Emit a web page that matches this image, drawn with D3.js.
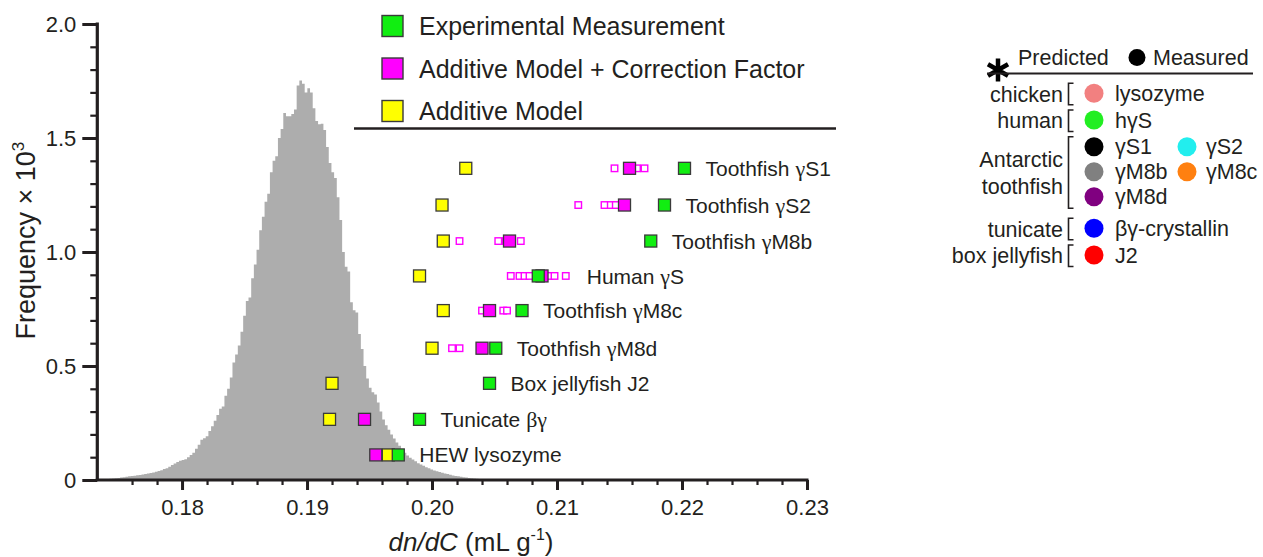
<!DOCTYPE html>
<html>
<head>
<meta charset="utf-8">
<script src="https://cdn.jsdelivr.net/npm/d3@7/dist/d3.min.js"></script>
<style>
  html, body { margin: 0; padding: 0; background: #fff; }
  svg { display: block; font-family: "Liberation Sans", Arial, Helvetica, sans-serif; }
</style>
</head>
<body>
<svg id="chart" width="1263" height="557"></svg>
<script>
// ---------------- DATA ----------------
// Histogram of predicted dn/dC (frequency x 10^3)
const histStart = 0.17419;
const histBinWidth = 0.000214;
const histFreq = [
  0.005,0.007,0.008,0.009,0.011,0.012,0.014,0.016,0.017,0.019,
  0.021,0.022,0.024,0.026,0.028,0.031,0.033,0.036,0.039,0.043,
  0.048,0.052,0.058,0.066,0.072,0.079,0.084,0.088,0.091,0.100,
  0.110,0.120,0.137,0.155,0.176,0.183,0.192,0.215,0.236,0.260,
  0.285,0.312,0.322,0.370,0.400,0.450,0.515,0.550,0.590,0.650,
  0.720,0.785,0.800,0.885,0.945,1.010,1.095,1.155,1.220,1.255,
  1.350,1.400,1.420,1.500,1.540,1.610,1.595,1.595,1.605,1.625,
  1.730,1.752,1.738,1.700,1.718,1.700,1.630,1.575,1.560,1.562,
  1.535,1.460,1.390,1.350,1.325,1.240,1.140,1.000,0.935,0.915,
  0.780,0.745,0.735,0.640,0.575,0.500,0.445,0.405,0.385,0.375,
  0.340,0.300,0.265,0.240,0.220,0.200,0.182,0.165,0.150,0.135,
  0.120,0.108,0.098,0.090,0.082,0.074,0.068,0.062,0.056,0.051,
  0.046,0.042,0.038,0.035,0.032,0.029,0.026,0.023,0.020,0.018,
  0.016,0.014,0.012,0.011,0.009,0.008,0.007,0.005,0.004,0.003,
  0.002
];

const proteins = ["Toothfish \u03b3S1","Toothfish \u03b3S2","Toothfish \u03b3M8b","Human \u03b3S",
  "Toothfish \u03b3M8c","Toothfish \u03b3M8d","Box jellyfish J2","Tunicate \u03b2\u03b3","HEW lysozyme"];
const rowLevel  = [1.367, 1.206, 1.048, 0.895, 0.743, 0.578, 0.424, 0.266, 0.110];
const measured  = [0.2202, 0.2186, 0.2175, 0.2085, 0.2072, 0.2051, 0.2046, 0.1990, 0.1973];
const corrected = [0.2158, 0.2154, 0.2062, 0.2088, 0.2046, 0.2040, null, 0.1946, 0.1955];
const additive  = [0.2027, 0.2008, 0.2009, 0.1990, 0.2009, 0.2000, 0.1920, 0.1918, 0.1965];
const correctedVariants = [
  [0.2146, 0.2164, 0.2170],
  [0.2117, 0.2138, 0.2143, 0.2147],
  [0.2022, 0.2053, 0.2059, 0.2071],
  [0.2063, 0.2070, 0.2074, 0.2078, 0.2090, 0.2094, 0.2098, 0.2107],
  [0.2040, 0.2057, 0.2060],
  [0.2016, 0.2022],
  [],
  [],
  [0.1961]
];

const xMajorTicks = [0.18, 0.19, 0.20, 0.21, 0.22, 0.23];
const yMajorTicks = [0, 0.5, 1.0, 1.5, 2.0];
const yTickLabels = ["0", "0.5", "1.0", "1.5", "2.0"];

const legendLabels = ["Experimental Measurement", "Additive Model + Correction Factor", "Additive Model"];

const keyGroups = ["chicken", "human", "Antarctic\ntoothfish", "tunicate", "box jellyfish"];
const keyItems = [
  [{name: "lysozyme", color: "#f28080"}],
  [{name: "h\u03b3S", color: "#22ee22"}],
  [{name: "\u03b3S1", color: "#000000"}, {name: "\u03b3S2", color: "#22eeee"},
   {name: "\u03b3M8b", color: "#808080"}, {name: "\u03b3M8c", color: "#ff8010"},
   {name: "\u03b3M8d", color: "#800080"}],
  [{name: "\u03b2\u03b3-crystallin", color: "#0000ff"}],
  [{name: "J2", color: "#ff0000"}]
];

// ---------------- STYLE ----------------
const GREEN = "#11ee11", MAGENTA = "#ff00ff", YELLOW = "#ffff00", HIST = "#adadad", INK = "#231f20";

const svg = d3.select("#chart");
const X0 = 0.17322, X1 = 0.23;
const x = d3.scaleLinear().domain([X0, X1]).range([97.3, 807]);
const y = d3.scaleLinear().domain([0, 2]).range([480, 24]);

// ---------------- HISTOGRAM ----------------
const histPts = histFreq.map((f, i) => ({v: histStart + i * histBinWidth, f}));
histPts.push({v: histStart + histFreq.length * histBinWidth, f: 0});
svg.append("path")
  .datum(histPts)
  .attr("fill", HIST)
  .attr("d", d3.area().curve(d3.curveStepAfter).x(d => x(d.v)).y0(y(0)).y1(d => y(d.f)));

// ---------------- AXES ----------------
const xMinor = d3.range(0.176, 0.2301, 0.002).filter(v => !xMajorTicks.some(m => Math.abs(m - v) < 1e-6));
const yMinor = d3.range(0.1, 2.0, 0.1).filter(v => !yMajorTicks.some(m => Math.abs(m - v) < 1e-6));

const gx = svg.append("g").attr("transform", `translate(0,${y(0)})`);
gx.call(d3.axisBottom(x).tickValues(xMinor).tickSize(5).tickSizeOuter(0).tickFormat(""));
gx.selectAll(".tick line").attr("stroke-width", 2.2).attr("stroke", INK);
const gx2 = svg.append("g").attr("transform", `translate(0,${y(0)})`);
gx2.call(d3.axisBottom(x).tickValues(xMajorTicks).tickSize(10).tickSizeOuter(0).tickPadding(9).tickFormat(d3.format(".2f")));
gx2.selectAll(".tick line").attr("stroke-width", 3).attr("stroke", INK);
gx2.selectAll(".tick text").attr("font-size", 22).attr("fill", INK).attr("font-family", "Liberation Sans, Arial, sans-serif");
gx.select(".domain").remove();
gx2.select(".domain").remove();

const gy = svg.append("g").attr("transform", `translate(${x(X0)},0)`);
gy.call(d3.axisLeft(y).tickValues(yMinor).tickSize(7).tickSizeOuter(0).tickFormat(""));
gy.selectAll(".tick line").attr("stroke-width", 2.2).attr("stroke", INK);
const gy2 = svg.append("g").attr("transform", `translate(${x(X0)},0)`);
gy2.call(d3.axisLeft(y).tickValues(yMajorTicks).tickSize(15).tickSizeOuter(0).tickPadding(6)
  .tickFormat((d, i) => yTickLabels[i]));
gy2.selectAll(".tick line").attr("stroke-width", 3).attr("stroke", INK);
gy2.selectAll(".tick text").attr("font-size", 22).attr("fill", INK).attr("font-family", "Liberation Sans, Arial, sans-serif");
gy.select(".domain").remove();
gy2.select(".domain").remove();

// axis lines
svg.append("line").attr("x1", x(X0) - 1.5).attr("x2", x(X1) + 1.5).attr("y1", y(0)).attr("y2", y(0))
  .attr("stroke", INK).attr("stroke-width", 3.2);
svg.append("line").attr("x1", x(X0)).attr("x2", x(X0)).attr("y1", y(2) - 1.5).attr("y2", y(0))
  .attr("stroke", INK).attr("stroke-width", 3.2);

// axis titles
const yt = svg.append("text")
  .attr("transform", `translate(35,${y(1.05)}) rotate(-90)`)
  .attr("text-anchor", "middle").attr("font-size", 27).attr("fill", INK);
yt.append("tspan").text("Frequency \u00d7 10");
yt.append("tspan").attr("font-size", 17).attr("dy", -11).text("3");

const xt = svg.append("text")
  .attr("x", 471).attr("y", 551)
  .attr("text-anchor", "middle").attr("font-size", 26).attr("fill", INK);
xt.append("tspan").attr("font-style", "italic").text("dn/dC");
xt.append("tspan").text(" (mL g");
xt.append("tspan").attr("font-size", 16).attr("dy", -11).text("-1");
xt.append("tspan").attr("dy", 11).text(")");

// ---------------- MARKERS ----------------
const BIG = 12, SMALL = 6.5;
const rows = svg.append("g");
proteins.forEach((name, i) => {
  const cy = y(rowLevel[i]);
  const g = rows.append("g");
  correctedVariants[i].forEach(v => {
    g.append("rect").attr("x", x(v) - SMALL / 2).attr("y", cy - SMALL / 2)
      .attr("width", SMALL).attr("height", SMALL)
      .attr("fill", "#fff").attr("stroke", MAGENTA).attr("stroke-width", 1.4);
  });
  g.append("rect").attr("x", x(additive[i]) - BIG / 2).attr("y", cy - BIG / 2)
    .attr("width", BIG).attr("height", BIG).attr("fill", YELLOW).attr("stroke", "#3a3a3a").attr("stroke-width", 1.3);
  if (corrected[i] !== null) {
    g.append("rect").attr("x", x(corrected[i]) - BIG / 2).attr("y", cy - BIG / 2)
      .attr("width", BIG).attr("height", BIG).attr("fill", MAGENTA).attr("stroke", "#3a3a3a").attr("stroke-width", 1.3);
  }
  g.append("rect").attr("x", x(measured[i]) - BIG / 2).attr("y", cy - BIG / 2)
    .attr("width", BIG).attr("height", BIG).attr("fill", GREEN).attr("stroke", "#3a3a3a").attr("stroke-width", 1.3);

  const all = [measured[i], additive[i]].concat(corrected[i] !== null ? [corrected[i]] : [], correctedVariants[i]);
  const lx = x(d3.max(all)) + 21;
  const t = g.append("text").attr("x", lx).attr("y", cy).attr("dy", "0.36em")
    .attr("font-size", 21).attr("fill", INK);
  name.split(/([\u03b2\u03b3]+)/).forEach(part => {
    if (!part) return;
    const sp = t.append("tspan").text(part);
    if (/[\u03b2\u03b3]/.test(part)) sp.attr("font-family", "Liberation Serif, Times New Roman, serif").attr("font-size", 22);
  });
});

// ---------------- TOP LEGEND ----------------
const legColors = [GREEN, MAGENTA, YELLOW];
const legY = [26, 68.5, 111];
legendLabels.forEach((lab, i) => {
  svg.append("rect").attr("x", 382).attr("y", legY[i] - 10.5).attr("width", 21).attr("height", 21)
    .attr("fill", legColors[i]).attr("stroke", "#3a3a3a").attr("stroke-width", 1.4);
  svg.append("text").attr("x", 419).attr("y", legY[i]).attr("dy", "0.36em")
    .attr("font-size", 25).attr("fill", INK).text(lab);
});
svg.append("line").attr("x1", 354).attr("x2", 836).attr("y1", 128.5).attr("y2", 128.5)
  .attr("stroke", INK).attr("stroke-width", 2.6);

// ---------------- RIGHT KEY ----------------
const key = svg.append("g").attr("font-size", 21.5).attr("fill", INK);
key.append("path")
  .attr("transform", "translate(998,70)")
  .attr("d", d3.symbol().type(d3.symbolAsterisk).size(380)())
  .attr("fill", "none").attr("stroke", "#000").attr("stroke-width", 4.5);
key.append("text").attr("x", 1018).attr("y", 57).attr("dy", "0.36em").text("Predicted");
key.append("circle").attr("cx", 1137).attr("cy", 57.5).attr("r", 8.5).attr("fill", "#000");
key.append("text").attr("x", 1153).attr("y", 57).attr("dy", "0.36em").text("Measured");
key.append("line").attr("x1", 987).attr("x2", 1253).attr("y1", 73.5).attr("y2", 73.5)
  .attr("stroke", INK).attr("stroke-width", 2);

const groupTop = [93.3, 120, 146.7, 228.3, 255];
const rowStep = 25;
const bx = 1068.5, circX = 1094, textX = 1115, circX2 = 1187, textX2 = 1206;
keyGroups.forEach((grp, gi) => {
  const items = keyItems[gi];
  const top = groupTop[gi];
  let nRows;
  if (items.length > 1) {
    items.forEach((it, k) => {
      const r = Math.floor(k / 2), c = k % 2;
      const cy = top + r * rowStep;
      key.append("circle").attr("cx", c ? circX2 : circX).attr("cy", cy).attr("r", 9.5).attr("fill", it.color);
      key.append("text").attr("x", c ? textX2 : textX).attr("y", cy).attr("dy", "0.36em").text(it.name);
    });
    nRows = Math.ceil(items.length / 2);
  } else {
    key.append("circle").attr("cx", circX).attr("cy", top).attr("r", 9.5).attr("fill", items[0].color);
    key.append("text").attr("x", textX).attr("y", top).attr("dy", "0.36em").text(items[0].name);
    nRows = 1;
  }
  const y0 = top - 10, y1 = top + (nRows - 1) * rowStep + 11.5;
  key.append("path").attr("d", `M${bx + 5},${y0} H${bx} V${y1} H${bx + 5}`)
    .attr("fill", "none").attr("stroke", INK).attr("stroke-width", 1.6);
  const lines = grp.split("\n");
  const midY = (y0 + y1) / 2;
  lines.forEach((ln, li) => {
    const ly = midY + (li - (lines.length - 1) / 2) * 27;
    key.append("text").attr("x", 1063).attr("y", ly).attr("dy", "0.36em")
      .attr("text-anchor", "end").text(ln);
  });
});
</script>
</body>
</html>
